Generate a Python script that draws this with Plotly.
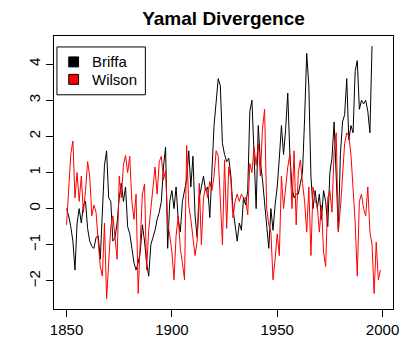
import plotly.graph_objects as go

briffa_start = 1850
briffa = [
    0.0, -0.2, -0.5, -0.9, -1.7, -0.4, 0.0, -0.4, 0.1, 0.2,
    -0.55, -0.9, -1.05, -1.1, -0.8, -0.75, -1.4, 0.1, 1.2, 1.6,
    0.3, 0.2, -0.9, -0.8, -0.4, 0.3, 0.7, 0.2, 0.6, -0.5,
    -0.7, -1.1, -1.5, -1.7, -1.5, -1.2, -0.45, -0.9, -1.5, -1.87,
    -1.0, -0.8, -0.6, -0.3, -0.1, 0.2, 1.15, 1.7, -1.1, 0.2,
    0.5, 0.0, 0.6, -0.3, -0.65, 0.2, 0.5, 0.8, 1.6, 0.6,
    1.45, -0.2, -0.8, 0.3, 0.6, 0.9, 0.5, 0.6, -0.25, 0.9,
    2.3, 2.95, 3.6, 3.4, 1.8, 1.5, 1.3, 1.4, 0.9, 0.0,
    -0.4, -0.9, -0.4, -0.6, 0.3, 0.1, 0.5, 2.7, 3.0, 1.6,
    0.0, 2.3, 1.3, 0.8, 0.2, -0.4, -1.1, 0.0, -0.6, 0.1,
    0.6, 1.4, 2.3, 1.5, 2.2, 3.2, 1.5, 0.6, 0.3, 0.4,
    0.4, 0.7, 1.0, 2.5, 4.3, 3.4, 0.9, 0.0, 0.5, 0.0,
    0.4, -0.3, 0.5, 0.2, -0.5, 1.0, 1.4, 2.4, 0.6, -0.6,
    1.5, 2.4, 2.6, 3.6, 1.9, 2.3, 2.1, 3.8, 4.1, 2.75,
    3.0, 2.9, 3.0, 2.7, 2.1, 4.5,
]

wilson_start = 1850
wilson = [
    -0.45, 0.6, 1.5, 1.87, 0.3, 1.0, 0.2, 0.9, -0.1, 0.5,
    1.3, 0.9, -0.2, 0.1, -0.1, -0.9, -1.6, -1.87, -0.4, -2.5,
    -1.3, -0.5, -0.2, -0.9, -1.4, 0.9, 0.3, 1.2, 1.47, 1.0,
    1.45, 0.2, -0.3, 0.4, -2.35, -0.9, 0.4, 0.68, -1.7, -0.6,
    0.0, 0.7, 1.15, 0.4, 1.3, 1.45, 0.8, 1.05, -0.37, -0.75,
    -1.2, -1.97, -0.75, -0.2, -1.1, -1.5, -1.97, 1.75, 0.1, -0.3,
    -0.8, -1.3, -0.9, 0.7, -1.0, 0.3, 0.6, 0.3, 0.75, 0.5,
    0.9, 1.6, 1.45, 0.1, -1.0, 1.35, -0.55, 1.15, 0.8, -0.25,
    0.2, 0.4, 0.2, 0.4, 0.3, 0.3, -0.17, 1.25, 1.0, 1.7,
    1.2, 1.8, 0.9, 2.2, 2.75, 0.0, -0.45, -0.65, -1.97, -1.4,
    -0.7, -1.3, 0.9, 0.0, 0.6, 1.15, 1.5, 0.0, 1.6, -0.45,
    1.0, 1.35, 0.7, 0.2, -0.65, 0.6, -1.3, 0.6, 0.2, 0.1,
    -0.65, 0.1, -1.2, -1.6, 0.3, 0.5, -0.1, 1.6, 2.1, -0.65,
    0.0, 0.9, 1.8, 2.1, 2.0, 1.5, 0.5, -0.37, -1.87, 0.2,
    0.4, 0.0, -0.2, 0.6, -0.65, -1.0, -2.35, -0.93, -1.97, -1.7,
]

x_ticks = [1850, 1900, 1950, 2000]
y_ticks = [-2, -1, 0, 1, 2, 3, 4]
title_text = "Yamal Divergence"
names = ["Briffa", "Wilson"]
colors = ["#000000", "#FF0000"]

briffa_years = list(range(briffa_start, briffa_start + len(briffa)))
wilson_years = list(range(wilson_start, wilson_start + len(wilson)))

# R-style axis extent: data range extended 4% each side
all_x = briffa_years + wilson_years
all_y = briffa + wilson
xr = max(all_x) - min(all_x)
yr = max(all_y) - min(all_y)
x_range = [min(all_x) - 0.04 * xr, max(all_x) + 0.04 * xr]
y_range = [min(all_y) - 0.04 * yr, max(all_y) + 0.04 * yr]

font = "Liberation Sans, Arial, sans-serif"

# page has an 8px body margin; figure sized to fit inside the 417x356 window
W, H = 401, 340
L, R, T, B = 46, 10, 28, 38
pw, ph = W - L - R, H - T - B


def px(fx):
    return (fx - L) / pw


def py(fy):
    return 1 - (fy - T) / ph


fig = go.Figure()
fig.add_trace(go.Scatter(x=briffa_years, y=briffa, mode="lines", name=names[0],
                         line=dict(color=colors[0], width=1), showlegend=False))
fig.add_trace(go.Scatter(x=wilson_years, y=wilson, mode="lines", name=names[1],
                         line=dict(color=colors[1], width=1), showlegend=False))

# R-style legend box (filled squares)
shapes = [dict(type="rect", xref="paper", yref="paper",
               x0=px(49), x1=px(139), y0=py(87), y1=py(39),
               line=dict(color="black", width=1), fillcolor="white")]
annotations = []
row_centers = [54, 71.5]
for n, c, fy in zip(names, colors, row_centers):
    shapes.append(dict(type="rect", xref="paper", yref="paper",
                       x0=px(61), x1=px(71), y0=py(fy + 5), y1=py(fy - 5),
                       line=dict(color="black", width=1), fillcolor=c))
    annotations.append(dict(text=n, xref="paper", yref="paper", x=px(83), y=py(fy),
                            xanchor="left", yanchor="middle", showarrow=False,
                            font=dict(size=15, family=font, color="black")))

fig.update_layout(
    width=W, height=H,
    margin=dict(l=L, r=R, t=T, b=B),
    paper_bgcolor="white", plot_bgcolor="white",
    font=dict(family=font, size=15, color="black"),
    title=dict(text="<b>" + title_text + "</b>", x=0.5, xref="paper",
               y=1 - 10 / H, yanchor="middle", font=dict(size=19, family=font)),
    showlegend=False,
    shapes=shapes,
    annotations=annotations,
    xaxis=dict(range=x_range, tickvals=x_ticks, showgrid=False, zeroline=False,
               showline=True, mirror=True, linecolor="black", linewidth=1,
               ticks="outside", ticklen=7, tickcolor="black"),
    yaxis=dict(range=y_range, tickvals=y_ticks, showgrid=False, zeroline=False,
               showline=True, mirror=True, linecolor="black", linewidth=1,
               ticks="outside", ticklen=7, tickcolor="black", tickangle=-90),
)

fig.write_html("out.html")
